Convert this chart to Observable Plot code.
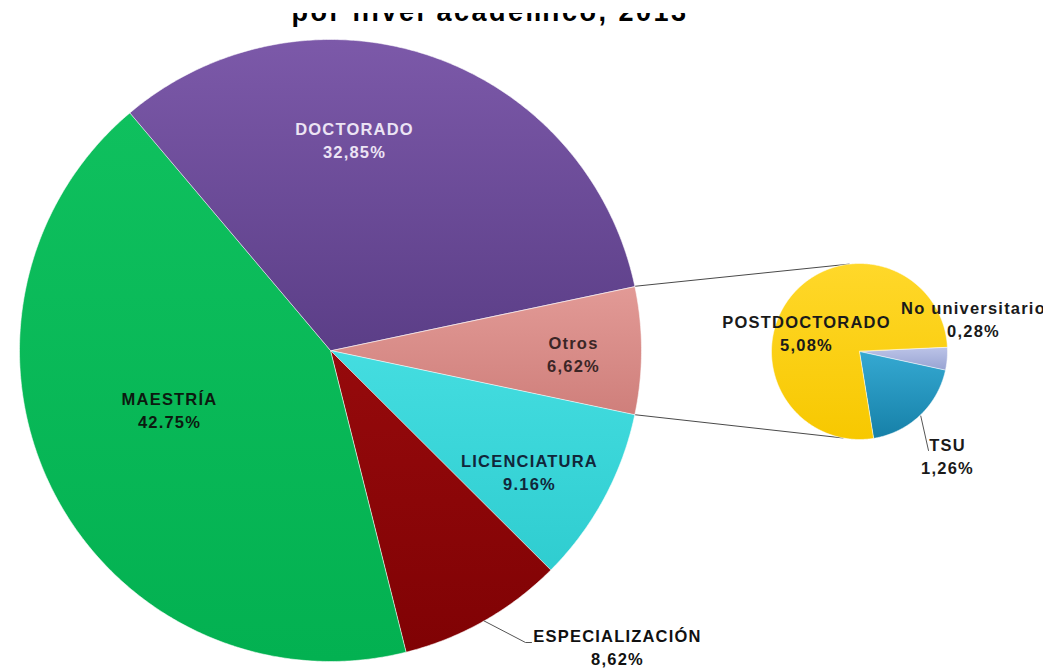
<!DOCTYPE html>
<html>
<head>
<meta charset="utf-8">
<script src="https://cdn.jsdelivr.net/npm/d3@7"></script>
<script src="https://cdn.jsdelivr.net/npm/@observablehq/plot@0.6"></script>
<style>
  html, body { margin: 0; padding: 0; background: #fff; }
  #wrap { position: relative; width: 1043px; height: 671px; overflow: hidden; }
  #title { position: absolute; left: 0; top: 13px; width: 980px; height: 17px; overflow: hidden; z-index: 2; }
  #title span { position: absolute; left: 0; right: 0; top: -14px; text-align: center;
           font: bold 27px "Liberation Sans", Arial, sans-serif; line-height: 27px;
           letter-spacing: 2.5px; color: #000; white-space: nowrap; }
  #chart svg text { letter-spacing: 1.2px; }
</style>
</head>
<body>
<div id="wrap">
  <div id="title"><span>por nivel académico, 2013</span></div>
  <div id="chart"></div>
</div>
<script>
// ---- Data ----
const mainNames  = ["Otros", "LICENCIATURA", "ESPECIALIZACIÓN", "MAESTRÍA", "DOCTORADO"];
const mainValues = [6.62, 9.16, 8.62, 42.75, 32.85];
const mainPct    = ["6,62%", "9.16%", "8,62%", "42.75%", "32,85%"];
const mainColors = ["url(#gOtros)", "url(#gLic)", "url(#gEsp)", "url(#gMae)", "url(#gDoc)"];

const subNames  = ["No universitario", "TSU", "POSTDOCTORADO"];
const subValues = [0.28, 1.26, 5.08];
const subPct    = ["0,28%", "1,26%", "5,08%"];
const subColors = ["url(#gNo)", "url(#gTsu)", "url(#gPost)"];

// gradient stops (top colour, bottom colour)
const gradients = {
  gOtros: ["#e29a96", "#cf7f7b"], gLic: ["#44dde0", "#2fcdd0"], gEsp: ["#960a0c", "#800204"],
  gMae: ["#0fc05e", "#03b151"], gDoc: ["#7c59a9", "#5b3e87"],
  gNo: ["#bcc4e8", "#98a3d2"], gTsu: ["#35a9d2", "#1680a8"], gPost: ["#ffd82a", "#f7c800"]
};

// ---- Layout ----
const W = 1043, H = 671;
const MAIN = {cx: 330, cy: 350, r: 311, start: -360 * mainValues[0] / 100 / 2};
const SUB  = {cx: 859, cy: 351, r: 88, start: -3};
const rad = a => a * Math.PI / 180;
const pt = (c, a, r = c.r) => ({x: c.cx + r * Math.cos(rad(a)), y: c.cy + r * Math.sin(rad(a))});

function slices(names, values, c) {
  const total = d3.sum(values);
  const rows = [];
  const spans = [];
  let a = c.start;
  names.forEach((name, i) => {
    const a0 = a, a1 = a + values[i] / total * 360;
    spans.push({name, a0, a1});
    rows.push({name, ...pt(c, 0, 0)});
    const n = Math.max(2, Math.ceil((a1 - a0) / 0.5));
    for (let k = 0; k <= n; k++) rows.push({name, ...pt(c, a0 + (a1 - a0) * k / n)});
    a = a1;
  });
  return {rows, spans};
}

const main = slices(mainNames, mainValues, MAIN);
const sub = slices(subNames, subValues, SUB);
const otros = main.spans[0];

// connector lines from "Otros" to the secondary pie
const connectors = [
  {from: pt(MAIN, otros.a0), to: pt(SUB, 263.5)},
  {from: pt(MAIN, otros.a1), to: pt(SUB, 100.5)}
];

// label placement (pixel layout)
const labelPos = {
  "DOCTORADO": [354, 139], "MAESTRÍA": [169, 409], "Otros": [573, 353],
  "LICENCIATURA": [529, 471], "ESPECIALIZACIÓN": [617, 646],
  "POSTDOCTORADO": [806, 332], "No universitario": [973, 318], "TSU": [947, 455]
};
const labelFill = {
  "DOCTORADO": "#ece4f4", "MAESTRÍA": "#0c1a10", "Otros": "#3b2626",
  "LICENCIATURA": "#11263a", "ESPECIALIZACIÓN": "#111", "POSTDOCTORADO": "#1a1a1a",
  "No universitario": "#1a1a1a", "TSU": "#1a1a1a"
};
const labels = [
  ...mainNames.map((n, i) => ({name: n, text: n + "\n" + mainPct[i]})),
  ...subNames.map((n, i) => ({name: n, text: n + "\n" + subPct[i]}))
].map(d => ({...d, x: labelPos[d.name][0], y: labelPos[d.name][1], fill: labelFill[d.name]}));

// leader lines for outside labels
const esp = main.spans[2], tsu = sub.spans[1];
const leaders = [
  [pt(MAIN, (esp.a0 + esp.a1) / 2), {x: 525, y: 642}, {x: 531, y: 642}],
  [pt(SUB, (tsu.a0 + tsu.a1) / 2, SUB.r + 1), {x: 928, y: 450}]
];
const leaderRows = leaders.flatMap((l, i) => l.map(p => ({...p, id: i})));

const fills = [...new Set(labels.map(d => d.fill))];

const chart = Plot.plot({
  width: W, height: H, margin: 0,
  x: {domain: [0, W], range: [0, W], axis: null},
  y: {domain: [0, H], range: [0, H], axis: null},
  color: {domain: [...mainNames, ...subNames], range: [...mainColors, ...subColors]},
  style: {fontFamily: "'Liberation Sans', Arial, sans-serif", background: "transparent"},
  marks: [
    Plot.link(connectors, {x1: d => d.from.x, y1: d => d.from.y, x2: d => d.to.x, y2: d => d.to.y, stroke: "#4a4a4a", strokeWidth: 1}),
    Plot.line(main.rows, {x: "x", y: "y", z: "name", fill: "name", stroke: "#ffffff", strokeOpacity: 0.55, strokeWidth: 1, curve: "linear-closed"}),
    Plot.line(sub.rows, {x: "x", y: "y", z: "name", fill: "name", stroke: "#ffffff", strokeOpacity: 0.55, strokeWidth: 1, curve: "linear-closed"}),
    Plot.line(leaderRows, {x: "x", y: "y", z: "id", stroke: "#555", strokeWidth: 1}),
    ...fills.map(f => Plot.text(labels.filter(d => d.fill === f), {
      x: "x", y: "y", text: "text", fill: f, fontWeight: "bold", fontSize: 16.5, lineHeight: 1.4
    }))
  ]
});

// gradient definitions used by the colour range
const ns = "http://www.w3.org/2000/svg";
const defs = document.createElementNS(ns, "defs");
for (const [id, [c0, c1]] of Object.entries(gradients)) {
  const g = document.createElementNS(ns, "linearGradient");
  g.setAttribute("id", id);
  g.setAttribute("x1", "0"); g.setAttribute("y1", "0");
  g.setAttribute("x2", "0"); g.setAttribute("y2", "1");
  [[0, c0], [1, c1]].forEach(([o, c]) => {
    const s = document.createElementNS(ns, "stop");
    s.setAttribute("offset", o); s.setAttribute("stop-color", c);
    g.appendChild(s);
  });
  defs.appendChild(g);
}
chart.insertBefore(defs, chart.firstChild);
document.getElementById("chart").appendChild(chart);
</script>
</body>
</html>
